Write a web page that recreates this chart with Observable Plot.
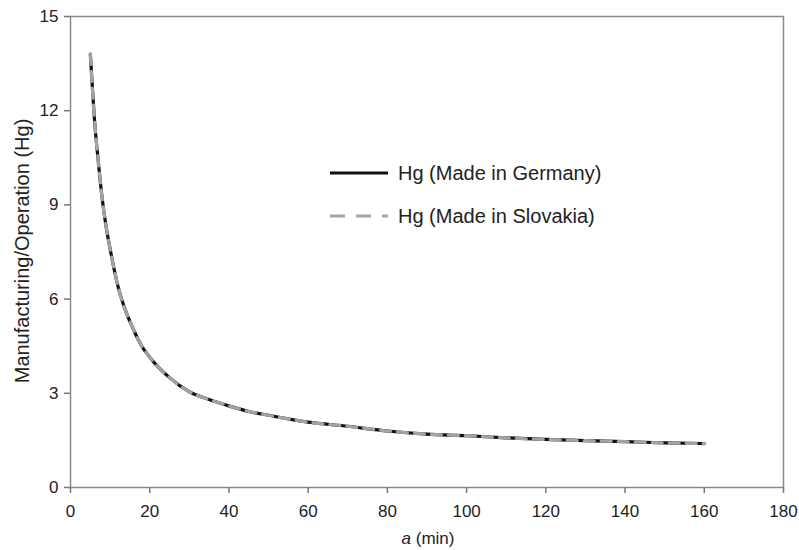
<!DOCTYPE html>
<html>
<head>
<meta charset="utf-8">
<script src="https://cdn.jsdelivr.net/npm/d3@7"></script>
<script src="https://cdn.jsdelivr.net/npm/@observablehq/plot@0.6"></script>
<style>
  body { margin: 0; background: #fff; font-family: "Liberation Sans", Arial, sans-serif; }
  #wrap { position: relative; width: 799px; height: 550px; }
  #legend { position: absolute; left: 330px; top: 159px; font-size: 20px; color: #222; }
  .row { display: flex; align-items: center; height: 28px; margin-bottom: 15px; }
  .row svg { margin-right: 10px; }
</style>
</head>
<body>
<div id="wrap">
  <div id="chart"></div>
  <div id="legend"></div>
</div>
<script>
const aMin = [5, 6, 7, 8, 9, 10, 12, 14, 16, 18, 20, 25, 30, 35, 40, 45, 50, 60, 70, 80, 90, 100, 110, 120, 130, 140, 150, 160];
const hgGermany = [13.8, 11.8, 10.4, 9.2, 8.3, 7.6, 6.4, 5.6, 5.0, 4.5, 4.15, 3.5, 3.05, 2.8, 2.6, 2.42, 2.3, 2.08, 1.95, 1.8, 1.7, 1.65, 1.58, 1.53, 1.49, 1.46, 1.42, 1.4];
const hgSlovakia = [13.8, 11.8, 10.4, 9.2, 8.3, 7.6, 6.4, 5.6, 5.0, 4.5, 4.15, 3.5, 3.05, 2.8, 2.6, 2.42, 2.3, 2.08, 1.95, 1.8, 1.7, 1.65, 1.58, 1.53, 1.49, 1.46, 1.42, 1.4];
const seriesNames = ["Hg (Made in Germany)", "Hg (Made in Slovakia)"];
const xTicks = [0, 20, 40, 60, 80, 100, 120, 140, 160, 180];
const yTicks = [0, 3, 6, 9, 12, 15];

const germany = aMin.map((a, i) => ({a, v: hgGermany[i]}));
const slovakia = aMin.map((a, i) => ({a, v: hgSlovakia[i]}));

const plot = Plot.plot({
  width: 799,
  height: 550,
  marginLeft: 70,
  marginRight: 16,
  marginTop: 16,
  marginBottom: 63,
  style: {fontFamily: "'Liberation Sans', Arial, sans-serif", fontSize: "17px", color: "#222", background: "#fff"},
  x: {domain: [0, 180]},
  y: {domain: [0, 15]},
  marks: [
    Plot.frame({stroke: "#8a8a8a", strokeWidth: 1.5}),
    Plot.axisX({ticks: xTicks, tickSize: 6, tickPadding: 11, stroke: "#777", strokeWidth: 1.5, label: null, fill: "#222", fontSize: 17}),
    Plot.axisY({ticks: yTicks, tickSize: 6, tickPadding: 6, stroke: "#777", strokeWidth: 1.5, label: null, fill: "#222", fontSize: 17}),
    Plot.line(germany, {x: "a", y: "v", stroke: "#111", strokeWidth: 3.2, curve: "monotone-x"}),
    Plot.line(slovakia, {x: "a", y: "v", stroke: "#a3a3a3", strokeWidth: 3.2, strokeDasharray: "10,7", curve: "monotone-x"})
  ]
});
document.getElementById("chart").appendChild(plot);

// axis titles
const svg = d3.select(plot);
svg.append("text")
  .attr("x", 428).attr("y", 544)
  .attr("text-anchor", "middle")
  .attr("font-size", 17).attr("fill", "#222")
  .call(t => { t.append("tspan").attr("font-style", "italic").text("a"); t.append("tspan").text(" (min)"); });
svg.append("text")
  .attr("transform", "translate(29,251) rotate(-90)")
  .attr("text-anchor", "middle")
  .attr("font-size", 20).attr("fill", "#222")
  .text("Manufacturing/Operation (Hg)");

// legend
const legend = document.getElementById("legend");
const styles = [{stroke: "#111", dash: null}, {stroke: "#a3a3a3", dash: "15,11"}];
seriesNames.forEach((name, i) => {
  const row = document.createElement("div");
  row.className = "row";
  row.innerHTML = `<svg width="58" height="6"><line x1="0" y1="3" x2="58" y2="3" stroke="${styles[i].stroke}" stroke-width="3" ${styles[i].dash ? `stroke-dasharray="${styles[i].dash}"` : ""}/></svg><span>${name}</span>`;
  legend.appendChild(row);
});
</script>
</body>
</html>
